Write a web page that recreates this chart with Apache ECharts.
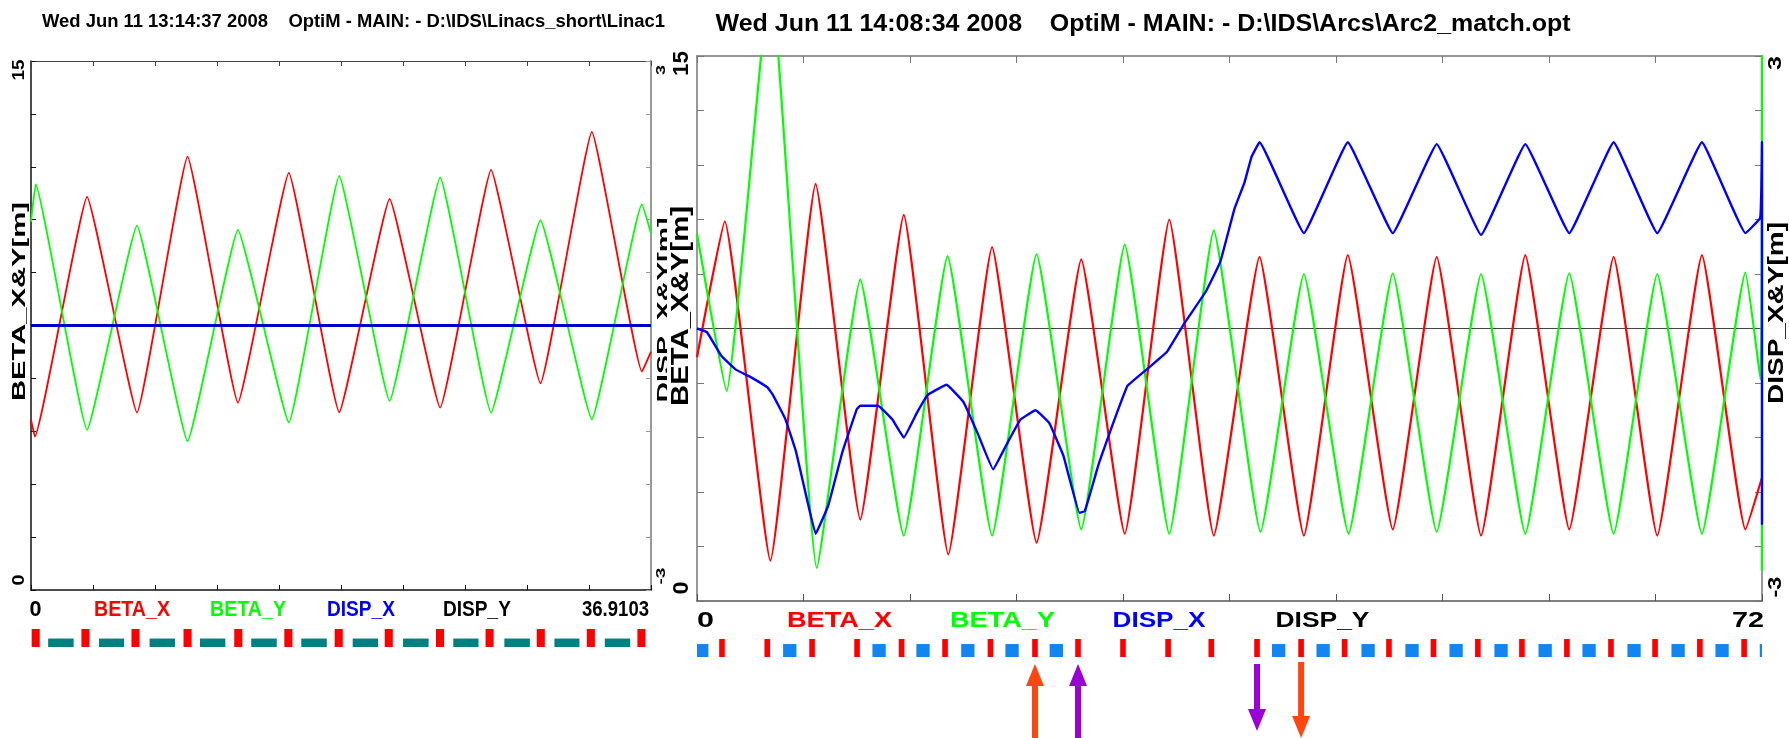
<!DOCTYPE html>
<html><head><meta charset="utf-8">
<script src="https://cdn.jsdelivr.net/npm/echarts@6.0.0/dist/echarts.min.js"></script>
<style>html,body{margin:0;padding:0;background:#fff}#c{width:1789px;height:738px}</style>
</head><body><div id="c"></div>
<script>
// ---------------- DATA ----------------
const linacTitle = "Wed Jun 11 13:14:37 2008    OptiM - MAIN: - D:\\IDS\\Linacs_short\\Linac1";
const arcTitle = "Wed Jun 11 14:08:34 2008    OptiM - MAIN: - D:\\IDS\\Arcs\\Arc2_match.opt";
const seriesNames = ["BETA_X", "BETA_Y", "DISP_X", "DISP_Y"];
const linacLength = 36.9103;
const arcLength = 72;
const betaRange = [0, 15];
const dispRange = [-3, 3];
const betaAxisTitle = "BETA_X&Y[m]";
const dispAxisTitle = "DISP_X&Y[m]";

const linacBetaX = [[0,4.82],[0.23,4.35],[3.34,11.15],[6.31,5.03],[9.32,12.29],[12.32,5.31],[15.35,11.83],[18.35,5.04],[21.35,11.09],[24.36,5.17],[27.39,11.91],[30.33,5.86],[33.39,12.99],[36.37,6.19],[36.91,6.76]];
const linacBetaY = [[0,10.44],[0.28,11.50],[3.34,4.54],[6.31,10.33],[9.32,4.22],[12.32,10.21],[15.35,4.75],[18.35,11.74],[21.35,5.36],[24.36,11.70],[27.39,5.03],[30.33,10.49],[33.39,4.84],[36.37,10.94],[36.91,10.11]];
const linacDispX = [[0,0],[36.9103,0]];
const linacDispY = [[0,0],[36.9103,0]];

const arcBetaX = [[0,6.71],[1.88,10.45],[4.96,1.11],[8.02,11.48],[11.04,2.24],[13.98,10.63],[16.99,1.28],[19.95,9.74],[22.96,1.60],[25.98,9.40],[28.92,1.85],[31.93,10.50],[34.94,1.80],[38.03,9.47],[41.03,1.80],[44.0,9.52],[47.04,1.97],[50.01,9.47],[53.01,1.80],[56.0,9.52],[58.97,1.97],[61.97,9.47],[64.92,1.80],[67.94,9.52],[70.88,1.97],[72,3.4]];
const arcBetaY = [[0,10.11],[2.0,5.78],[4.96,17.2],[8.1,0.91],[11.04,8.85],[13.98,1.80],[16.94,9.49],[19.95,1.80],[22.96,9.55],[25.98,1.97],[28.92,9.81],[31.93,1.85],[34.94,10.20],[38.10,1.90],[41.03,9.0],[44.05,1.85],[47.04,9.02],[50.01,1.90],[53.01,9.0],[56.0,1.85],[58.97,9.02],[61.97,1.85],[64.92,9.0],[67.94,1.85],[70.88,9.04],[71.9,6.1],[72,16],[72,0.83]];
const arcDispX = [[0,0],[0.67,-0.04],[1.64,-0.30],[2.60,-0.45],[3.57,-0.53],[4.77,-0.65],[5.13,-0.73],[5.98,-1.0],[6.70,-1.36],[7.42,-1.87],[8.02,-2.26],[8.87,-1.95],[9.83,-1.36],[10.80,-0.89],[11.04,-0.85],[12.24,-0.85],[13.20,-1.0],[13.98,-1.20],[14.89,-0.92],[15.61,-0.73],[16.87,-0.62],[18.02,-0.81],[18.99,-1.16],[20.02,-1.55],[20.92,-1.28],[21.88,-1.0],[22.89,-0.90],[23.81,-1.04],[24.77,-1.40],[25.86,-2.03],[26.22,-2.01],[27.18,-1.48],[28.14,-1.04],[29.11,-0.63],[30.55,-0.43],[31.76,-0.26],[32.96,0.06],[34.41,0.41],[35.37,0.73],[36.34,1.32],[37.0,1.6],[37.49,1.89],[38.03,2.05],[41.03,1.05],[44.0,2.05],[47.04,1.05],[50.01,2.03],[53.01,1.03],[56.0,2.03],[58.97,1.05],[61.97,2.05],[64.92,1.05],[67.94,2.05],[70.88,1.05],[71.88,1.22],[72,2.05],[72,-2.16]];
const arcDispY = [[0,0],[72,0]];

// lattice (element centres / extents along s, metres)
const linacQuads = [0.28,3.24,6.22,9.32,12.34,15.32,18.32,21.30,24.35,27.30,30.35,33.33,36.34];
const linacCavities = [[1.02,2.54],[4.05,5.54],[7.06,8.57],[10.06,11.57],[13.11,14.63],[16.09,17.61],[19.15,20.66],[22.15,23.67],[25.14,26.64],[28.18,29.70],[31.16,32.65],[34.16,35.67]];
const linacQuadLength = 0.48;
const arcQuads = [1.69,4.75,7.78,10.82,13.83,16.77,19.84,22.85,25.76,28.80,31.85,34.77,37.86,40.84,43.78,46.78,49.79,52.79,55.77,58.81,61.79,64.77,67.80,70.79];
const arcDipoles = [0.32,6.27,12.31,15.28,18.31,21.30,24.29,39.32,42.33,45.37,48.34,51.32,54.36,57.34,60.31,63.35,66.33,69.30,72.30];
const arcQuadLength = 0.38;
const arcDipoleLength = 0.9;
const arcArrowPositions = [22.85, 25.76, 37.86, 40.84];
const arcArrowDirections = ["up", "up", "down", "down"];

// ---------------- CHART ----------------
const RED = '#ff0000', GREEN = '#00ff00', BLUE = '#0000ff', BLACK = '#000000';
const FONT = '"Liberation Sans", Arial, Helvetica, sans-serif';
const chart = echarts.init(document.getElementById('c'), null, {renderer: 'canvas'});

function xAx(gi, max, pos, color, w, tick, show) {
  return {type:'value', gridIndex:gi, min:0, max:max, interval:max/10, position:pos, show: show !== false,
    axisLine:{show:true, onZero:false, lineStyle:{color:color, width:w}},
    axisTick:{show:true, inside:true, length:tick, lineStyle:{color:color, width:1}},
    axisLabel:{show:false}, splitLine:{show:false}};
}
function yAx(gi, range, pos, color, w, tick, show) {
  return {type:'value', gridIndex:gi, min:range[0], max:range[1], interval:(range[1]-range[0])/10, position:pos, show: show !== false,
    axisLine:{show:true, onZero:false, lineStyle:{color:color, width:w}},
    axisTick:{show:true, inside:true, length:tick, lineStyle:{color:color, width:1}},
    axisLabel:{show:false}, splitLine:{show:false}};
}
function line(xi, yi, data, color, width, smooth, z) {
  return {type:'line', xAxisIndex:xi, yAxisIndex:yi, data:data, symbol:'none', showSymbol:false,
    smooth:smooth, lineStyle:{color:color, width:width, join:'round'}, clip:true, silent:true, z:z||2, animation:false};
}
function centredBars(xi, yi, centres, len, h, color) {
  return {type:'custom', xAxisIndex:xi, yAxisIndex:yi, clip:true, silent:true,
    data: centres.map(s => [s, 0]),
    renderItem: function(params, api) {
      const s = api.value(0);
      const a = api.coord([s - len/2, h]);
      const b = api.coord([s + len/2, 0]);
      return {type:'rect', shape:{x:a[0], y:a[1], width:b[0]-a[0], height:b[1]-a[1]}, style:{fill:color}};
    }};
}
function spanBars(xi, yi, spans, h, color) {
  return {type:'custom', xAxisIndex:xi, yAxisIndex:yi, clip:true, silent:true,
    data: spans.map(p => [p[0], 0, p[1]]),
    encode:{x:0, y:1},
    renderItem: function(params, api) {
      const a = api.coord([api.value(0), h]);
      const b = api.coord([api.value(2), 0]);
      return {type:'rect', shape:{x:a[0], y:a[1], width:b[0]-a[0], height:b[1]-a[1]}, style:{fill:color}};
    }};
}

const option = {
  animation:false,
  backgroundColor:'#ffffff',
  grid:[
    {left:31, top:61, width:620, height:529},
    {left:31, top:629, width:620, height:18},
    {left:697, top:56, width:1065, height:545},
    {left:697, top:639, width:1065, height:18}
  ],
  xAxis:[
    xAx(0, linacLength, 'bottom', '#111', 1.5, 5),
    xAx(0, linacLength, 'top', '#444', 1.2, 5),
    xAx(1, linacLength, 'bottom', '#000', 1, 0, false),
    xAx(2, arcLength, 'bottom', '#555', 1.5, 7),
    xAx(2, arcLength, 'top', '#777', 1.5, 7),
    xAx(3, arcLength, 'bottom', '#000', 1, 0, false)
  ],
  yAxis:[
    yAx(0, betaRange, 'left', '#111', 1.5, 5),
    yAx(0, dispRange, 'right', '#999', 2, 5),
    yAx(1, [0,1], 'left', '#000', 1, 0, false),
    yAx(2, betaRange, 'left', '#777', 1.5, 7),
    yAx(2, dispRange, 'right', '#777', 1.5, 7),
    yAx(3, [0,1], 'left', '#000', 1, 0, false)
  ],
  series:[
    line(0, 0, linacBetaX, RED, 1.8, 0.1, 3),
    line(0, 0, linacBetaY, GREEN, 1.8, 0.1, 3),
    line(0, 1, linacDispX, BLUE, 3, false, 4),
    line(0, 1, linacDispY, '#000040', 1.4, false, 5),
    spanBars(2, 2, linacCavities, 0.47, '#008080'),
    centredBars(2, 2, linacQuads, linacQuadLength, 1, RED),
    line(3, 4, arcDispY, '#444', 1.2, false, 2),
    line(3, 3, arcBetaX, RED, 2.2, 0.12, 3),
    line(3, 3, arcBetaY, GREEN, 2.2, 0.12, 4),
    line(3, 4, arcDispX, BLUE, 2.4, 0.08, 5),
    centredBars(5, 5, arcDipoles, arcDipoleLength, 0.72, '#1385f0'),
    centredBars(5, 5, arcQuads, arcQuadLength, 1, RED)
  ]
};
chart.setOption(option);

// ---------------- TEXT & ANNOTATIONS ----------------
const mctx = document.createElement('canvas').getContext('2d');
function fitText(str, cx, cy, len, cap, color, weight, rot, z) {
  const fs = cap / 0.716;
  const font = weight + ' ' + fs.toFixed(2) + 'px ' + FONT;
  mctx.font = font;
  const mw = mctx.measureText(str).width || 1;
  return {type:'text', x:cx, y:cy, rotation: rot ? Math.PI/2 : 0, scaleX: len/mw, scaleY:1, z: z || 10, silent:true,
    style:{text:str, x:0, y:0, font:font, fill:color, align:'center', verticalAlign:'middle'}};
}
const g = [];
// titles
g.push(fitText(linacTitle, 353.5, 21.5, 623, 13, '#000', 'bold'));
g.push(fitText(arcTitle, 1143, 24, 855, 17, '#000', 'bold'));
// left plot bottom row
const colors = [RED, GREEN, BLUE, BLACK];
g.push(fitText('0', 35.5, 610, 12, 16, '#000', 'bold'));
const linacLabelPos = [[132,76],[248,76],[361,68],[477,68]];
seriesNames.forEach((n,i) => g.push(fitText(n, linacLabelPos[i][0], 610, linacLabelPos[i][1], 16, colors[i], 'bold')));
g.push(fitText(String(linacLength), 615.5, 610, 67, 16, '#000', 'bold'));
// right plot bottom row
g.push(fitText('0', 705.5, 621, 17, 16, '#000', 'bold'));
const arcLabelPos = [[839.5,105],[1002.5,105],[1159,93],[1322.5,94]];
seriesNames.forEach((n,i) => g.push(fitText(n, arcLabelPos[i][0], 621, arcLabelPos[i][1], 16, colors[i], 'bold')));
g.push(fitText(String(arcLength), 1748, 621, 32, 16, '#000', 'bold'));
// left plot rotated labels
g.push(fitText(String(betaRange[1]), 19.5, 70, 21, 12, '#000', 'bold', true));
g.push(fitText(String(betaRange[0]), 19.5, 580, 11, 12, '#000', 'bold', true));
g.push(fitText(betaAxisTitle, 20.5, 301.5, 199, 12.5, '#000', 'bold', true));
g.push(fitText(String(dispRange[1]), 662, 70, 10, 9, '#000', 'bold', true, 4));
g.push(fitText(String(dispRange[0]), 662, 576, 17, 9, '#000', 'bold', true, 4));
g.push(fitText(dispAxisTitle, 664, 310, 185, 12, '#000', 'bold', true, 4));
// right screenshot edge covering part of left label
g.push({type:'rect', shape:{x:667, y:150, width:12, height:320}, style:{fill:'#fff'}, z:5, silent:true});
// right plot rotated labels
g.push(fitText(String(betaRange[1]), 682, 63.5, 25, 16, '#000', 'bold', true));
g.push(fitText(String(betaRange[0]), 682, 588, 13, 16, '#000', 'bold', true));
g.push(fitText(betaAxisTitle, 681, 306, 200, 17, '#000', 'bold', true));
g.push(fitText(String(dispRange[1]), 1776, 63, 14, 13, '#000', 'bold', true));
g.push(fitText(String(dispRange[0]), 1776, 587, 21, 13, '#000', 'bold', true));
g.push(fitText(dispAxisTitle, 1777, 313, 182, 16, '#000', 'bold', true));

// arrows pointing at lattice elements
const arrowColors = ['#ff4510', '#9a00d6', '#9a00d6', '#ff4510'];
const arrowYs = [[664, 742], [664, 742], [664, 731], [662, 738]];
arcArrowPositions.forEach((s, i) => {
  const x = chart.convertToPixel({xAxisIndex:5}, s);
  const hw = 3, hh = 9, hl = 22;
  let pts;
  const yt = arrowYs[i][0], yb = arrowYs[i][1];
  if (arcArrowDirections[i] === 'up') {
    pts = [[x,yt],[x+hh,yt+hl],[x+hw,yt+hl],[x+hw,yb],[x-hw,yb],[x-hw,yt+hl],[x-hh,yt+hl]];
  } else {
    pts = [[x,yb],[x+hh,yb-hl],[x+hw,yb-hl],[x+hw,yt],[x-hw,yt],[x-hw,yb-hl],[x-hh,yb-hl]];
  }
  g.push({type:'polygon', shape:{points:pts}, style:{fill:arrowColors[i]}, z:20, silent:true});
});
chart.setOption({graphic: g});
</script></body></html>
